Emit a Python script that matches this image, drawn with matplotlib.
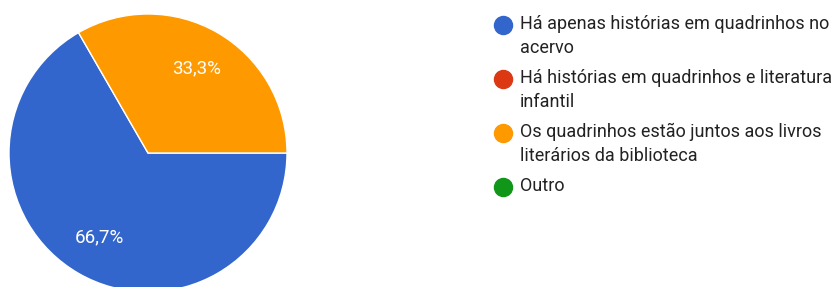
import matplotlib
matplotlib.use("Agg")
import matplotlib.pyplot as plt

# survey answers (Google Forms style pie)
labels = [
    "Há apenas histórias em quadrinhos no\nacervo",
    "Há histórias em quadrinhos e literatura\ninfantil",
    "Os quadrinhos estão juntos aos livros\nliterários da biblioteca",
    "Outro",
]
values = [2, 0, 1, 0]
colors = ["#3366CC", "#DC3912", "#FF9900", "#109618"]

plt.rcParams['font.family'] = ['Roboto', 'DejaVu Sans']

W, H = 840, 287
fig = plt.figure(figsize=(W / 100, H / 100), dpi=100)

# pie: centre ~ (148,153) px, radius ~139 px
cx, cy, r = 148, 153, 139
ax = fig.add_axes([(cx - r) / W, (H - cy - r) / H, 2 * r / W, 2 * r / H])
shown = [(v, c) for v, c in zip(values, colors) if v > 0]
wedges, texts, autotexts = ax.pie(
    [v for v, _ in shown], colors=[c for _, c in shown],
    startangle=0, counterclock=False, radius=1,
    autopct=lambda p: f"{p:.1f}%".replace(".", ","), pctdistance=0.7,
    wedgeprops=dict(edgecolor="white", linewidth=1),
    textprops=dict(color="white", fontsize=13.5),
)
ax.set_xlim(-1, 1)
ax.set_ylim(-1, 1)
ax.set_aspect("equal")
ax.axis("off")

# legend drawn by hand to get the wrapping/spacing
lx_marker, lx_text = 503, 520
y = 25
line_h = 26
gap = 2
for lab, col in zip(labels, colors):
    fig.lines.append(plt.Line2D([lx_marker / W], [1 - y / H], marker="o", markersize=13,
                                color=col, transform=fig.transFigure, linestyle="none"))
    nlines = lab.count("\n") + 1
    fig.text(lx_text / W, 1 - (y - 10) / H, lab, fontsize=13, color="#222222",
             ha="left", va="top", linespacing=1.45)
    y += nlines * line_h + gap

fig.savefig("out.png", dpi=100, facecolor="white")
